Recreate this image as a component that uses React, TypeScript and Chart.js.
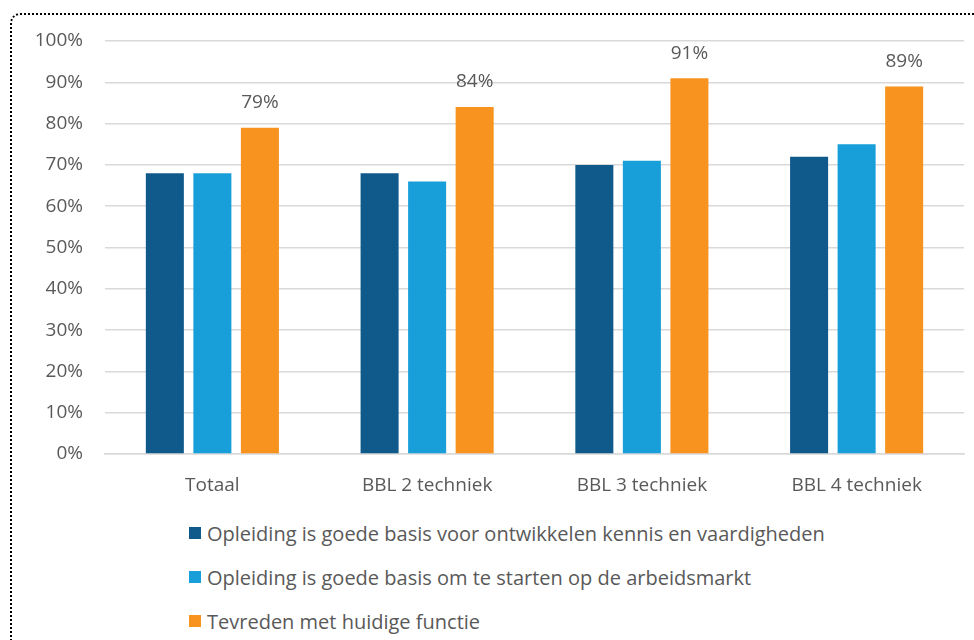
import React, { useEffect, useRef } from "react";
import { Chart, registerables } from "chart.js";

Chart.register(...registerables);

const categories = ["Totaal", "BBL 2 techniek", "BBL 3 techniek", "BBL 4 techniek"];
const seriesNames = [
  "Opleiding is goede basis voor ontwikkelen kennis en vaardigheden",
  "Opleiding is goede basis om te starten op de arbeidsmarkt",
  "Tevreden met huidige functie",
];
const basisKennis = [68, 68, 70, 72];
const basisArbeidsmarkt = [68, 66, 71, 75];
const tevreden = [79, 84, 91, 89];
const seriesColors = ["#0f5a8b", "#189fd9", "#f7931e"];
const yTicks = [0, 10, 20, 30, 40, 50, 60, 70, 80, 90, 100];

const FONT = "'Open Sans', sans-serif";
const TEXT = "#595959";

const labelPlugin = {
  id: "orangeLabels",
  afterDatasetsDraw(chart: any) {
    const ctx = chart.ctx;
    const meta = chart.getDatasetMeta(2);
    ctx.save();
    ctx.font = `19px ${FONT}`;
    ctx.fillStyle = TEXT;
    ctx.textAlign = "center";
    ctx.textBaseline = "middle";
    meta.data.forEach((bar: any, i: number) => {
      ctx.fillText(tevreden[i] + "%", bar.x, bar.y - 25);
    });
    ctx.restore();
  },
};

export default function App() {
  const ref = useRef<HTMLCanvasElement>(null);
  useEffect(() => {
    if (!ref.current) return;
    const data = [basisKennis, basisArbeidsmarkt, tevreden];
    const chart = new Chart(ref.current, {
      type: "bar",
      data: {
        labels: categories,
        datasets: data.map((d, i) => ({
          label: seriesNames[i],
          data: d,
          backgroundColor: seriesColors[i],
          barPercentage: 0.8,
          categoryPercentage: 0.664,
        })),
      },
      options: {
        responsive: false,
        animation: false,
        layout: { padding: { top: 41, right: 10, left: 0, bottom: 0 } },
        plugins: { legend: { display: false }, tooltip: { enabled: false } },
        scales: {
          x: {
            grid: { display: false, drawTicks: false },
            border: { display: true, color: "#d9d9d9", width: 1.5 },
            ticks: { color: TEXT, font: { family: FONT, size: 19 }, padding: 20 },
            afterFit: (s: any) => { s.height = 46; },
          },
          y: {
            min: 0,
            max: 100,
            afterBuildTicks: (s: any) => { s.ticks = yTicks.map((v) => ({ value: v })); },
            grid: { color: "#d9d9d9", lineWidth: 1.5, drawTicks: false },
            border: { display: false },
            ticks: {
              color: TEXT,
              font: { family: FONT, size: 19 },
              padding: 22,
              callback: (v: any) => v + "%",
            },
            afterFit: (s: any) => { s.width = 105; },
          },
        },
      },
      plugins: [labelPlugin],
    } as any);
    return () => chart.destroy();
  }, []);

  return (
    <div style={{ position: "fixed", left: 0, top: 0, width: 974, height: 640, overflow: "hidden", background: "#fff" }}>
      <div
        style={{
          position: "absolute",
          left: 10,
          top: 13,
          width: 1100,
          height: 800,
          border: "2px dotted #000",
          borderTopLeftRadius: 10,
          boxSizing: "border-box",
        }}
      />
      <canvas ref={ref} width={974} height={500} style={{ position: "absolute", left: 0, top: 0 }} />
      {seriesNames.map((name, i) => (
        <div
          key={name}
          style={{
            position: "absolute",
            left: 189,
            top: 533 + i * 44 - 14,
            height: 28,
            display: "flex",
            alignItems: "center",
            fontFamily: FONT,
            fontSize: 20,
            color: TEXT,
            whiteSpace: "nowrap",
          }}
        >
          <span style={{ display: "inline-block", width: 12, height: 12, background: seriesColors[i], marginRight: 6 }} />
          {name}
        </div>
      ))}
    </div>
  );
}
